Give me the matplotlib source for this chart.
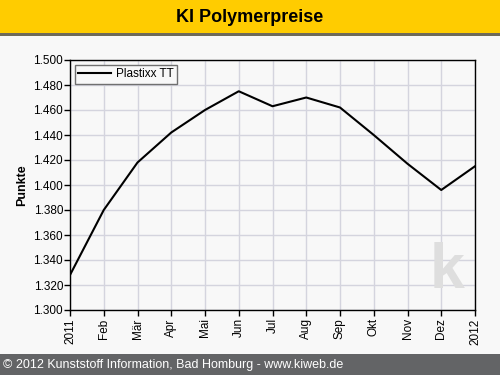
import matplotlib
matplotlib.use('Agg')

import matplotlib.pyplot as plt
from matplotlib.patches import Rectangle
from matplotlib.ticker import FuncFormatter

# ======================== Data ========================
MONTHS = ["2011", "Feb", "Mär", "Apr", "Mai", "Jun", "Jul",
          "Aug", "Sep", "Okt", "Nov", "Dez", "2012"]
PLASTIXX_TT = [1328, 1380, 1418, 1442, 1460, 1475, 1463,
               1470, 1462, 1440, 1417, 1396, 1415]

TITLE = "KI Polymerpreise"
FOOTER = "© 2012 Kunststoff Information, Bad Homburg - www.kiweb.de"
Y_LABEL = "Punkte"
SERIES_LABEL = "Plastixx TT"

# ======================== Style ========================
BG = "#f8f8f8"
HEADER_COLOR = "#ffcc00"
FOOTER_COLOR = "#636466"
GRID_COLOR = "#d4d4de"
W, H = 500, 375

plt.rcParams['font.family'] = ['Liberation Sans', 'DejaVu Sans']

fig = plt.figure(figsize=(5, 3.75), dpi=100, facecolor=BG)

# header bar and its dark underline
fig.patches.append(Rectangle((0, 1 - 33 / H), 1, 33 / H, transform=fig.transFigure,
                             facecolor=HEADER_COLOR, edgecolor='none', zorder=0))
fig.patches.append(Rectangle((0, 1 - 36 / H), 1, 3 / H, transform=fig.transFigure,
                             facecolor="#6e6a5a", edgecolor='none', zorder=0))
fig.text(0.5, 1 - 17 / H, TITLE, ha='center', va='center',
         fontsize=13, fontweight='bold', color='black')

# footer bar
fig.patches.append(Rectangle((0, 0), 1, 21 / H, transform=fig.transFigure,
                             facecolor=FOOTER_COLOR, edgecolor='none', zorder=0))
fig.text(3 / W, 10 / H, FOOTER, ha='left', va='center', fontsize=9, color='white')

# plot area: x 70..475, y 60..310 (pixels from top)
ax = fig.add_axes([70 / W, 1 - 310 / H, 405 / W, 250 / H])
ax.set_facecolor(BG)

x = list(range(len(MONTHS)))
ax.plot(x, PLASTIXX_TT, color='black', linewidth=1.5, label=SERIES_LABEL, zorder=3)

ax.set_xlim(0, len(MONTHS) - 1)
ax.set_ylim(1300, 1500)
ax.set_xticks(x)
ax.set_xticklabels(MONTHS, rotation=90, fontsize=8.5)
ax.set_yticks(range(1300, 1501, 20))
ax.yaxis.set_major_formatter(FuncFormatter(lambda v, p: f"{int(v) // 1000}.{int(v) % 1000:03d}"))
ax.tick_params(axis='y', labelsize=8.5, length=4, width=1, direction='out', pad=1)
ax.tick_params(axis='x', length=4, width=1, direction='out', pad=2)

ax.grid(True, color=GRID_COLOR, linewidth=1)
ax.set_axisbelow(True)
for side in ax.spines.values():
    side.set_color('black')
    side.set_linewidth(1)

ax.set_ylabel(Y_LABEL, fontsize=9, fontweight='bold', labelpad=4)

# watermark "ki" logo
ax.text(0.975, 0.035, "k", transform=ax.transAxes, ha='right', va='bottom',
        fontsize=45, fontweight='bold', color='#dedede', zorder=1)

leg = ax.legend(loc='upper left', fontsize=8.5, frameon=True, fancybox=False,
                borderpad=0.3, handlelength=2.8, handletextpad=0.4,
                borderaxespad=0.4)
leg.get_frame().set_edgecolor('#707070')
leg.get_frame().set_facecolor(BG)
leg.get_frame().set_alpha(1)

fig.savefig("out.png", dpi=100, facecolor=BG)
